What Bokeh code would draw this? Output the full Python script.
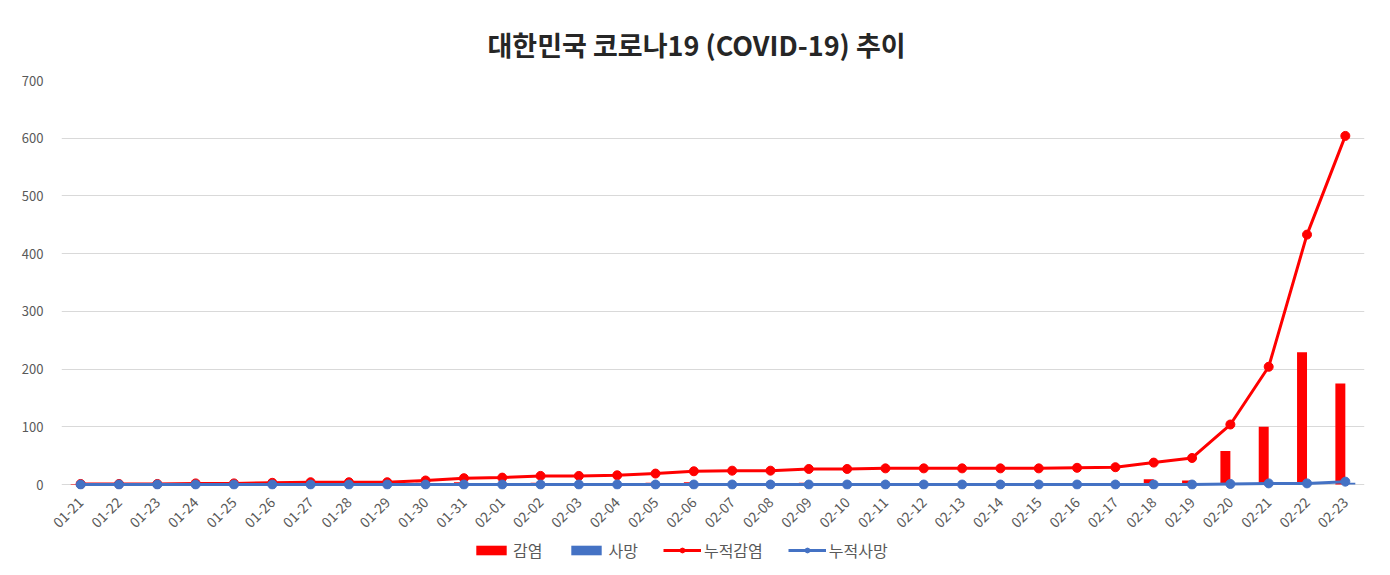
import math
from bokeh.plotting import figure
from bokeh.layouts import column
from bokeh.models import ColumnDataSource, Range1d, FactorRange, Legend, LegendItem, FixedTicker
from bokeh.transform import dodge
from bokeh.embed import file_html
from bokeh.resources import INLINE

dates = ["01-21", "01-22", "01-23", "01-24", "01-25", "01-26", "01-27", "01-28",
         "01-29", "01-30", "01-31", "02-01", "02-02", "02-03", "02-04", "02-05",
         "02-06", "02-07", "02-08", "02-09", "02-10", "02-11", "02-12", "02-13",
         "02-14", "02-15", "02-16", "02-17", "02-18", "02-19", "02-20", "02-21",
         "02-22", "02-23"]

daily_conf = [1, 0, 0, 1, 0, 1, 1, 0, 0, 3, 4,
              1, 3, 0, 1, 3, 4, 1, 0, 3, 0, 1, 0, 0, 0, 0, 1, 1, 9, 7, 58, 100, 229, 175]
daily_death = [0, 0, 0, 0, 0, 0, 0, 0, 0, 0, 0,
               0, 0, 0, 0, 0, 0, 0, 0, 0, 0, 0, 0, 0, 0, 0, 0, 0, 0, 0, 1, 1, 0, 3]
cum_conf = [1, 1, 1, 2, 2, 3, 4, 4, 4, 7, 11,
            12, 15, 15, 16, 19, 23, 24, 24, 27, 27, 28, 28, 28, 28, 28, 29, 30, 38, 46, 104, 204, 433, 604]
cum_death = [0, 0, 0, 0, 0, 0, 0, 0, 0, 0, 0,
             0, 0, 0, 0, 0, 0, 0, 0, 0, 0, 0, 0, 0, 0, 0, 0, 0, 0, 0, 1, 2, 2, 5]

y_ticks = [0, 100, 200, 300, 400, 500, 600, 700]
title_text = "대한민국 코로나19 (COVID-19) 추이"
labels = ["감염", "사망", "누적감염", "누적사망"]

RED = "#FF0000"
BLUE = "#4472C4"
FONT = "Noto Sans CJK KR"
GREY_TXT = "#595959"

source = ColumnDataSource(dict(date=dates, dc=daily_conf, dd=daily_death, cc=cum_conf, cd=cum_death))


def add_series(fig, marker_size):
    r1 = fig.vbar(x=dodge("date", -0.13, range=fig.x_range), top="dc", width=0.26, source=source,
                  fill_color=RED, line_color=None)
    r2 = fig.vbar(x=dodge("date", 0.13, range=fig.x_range), top="dd", width=0.26, source=source,
                  fill_color=BLUE, line_color=None)
    r3 = fig.line("date", "cc", source=source, line_color=RED, line_width=3)
    r4 = fig.scatter("date", "cc", source=source, size=marker_size, fill_color=RED, line_color=RED)
    r5 = fig.line("date", "cd", source=source, line_color=BLUE, line_width=3)
    r6 = fig.scatter("date", "cd", source=source, size=marker_size, fill_color=BLUE, line_color=BLUE)
    return r1, r2, r3, r4, r5, r6


p = figure(width=1382, height=535,
           x_range=FactorRange(factors=dates, range_padding=0),
           y_range=Range1d(-8.6, 700),
           output_backend="svg", toolbar_location=None,
           min_border_left=61, min_border_right=18, min_border_top=80, min_border_bottom=45)

p.title.text = title_text
p.title.align = "left"
p.title.text_font = FONT
p.title.text_font_size = "27px"
p.title.text_font_style = "bold"
p.title.text_color = "#262626"
p.title.offset = 426
p.title.standoff = 34

p.outline_line_color = None
p.background_fill_color = "white"
p.border_fill_color = "white"

p.xgrid.visible = False
p.ygrid.grid_line_color = "#D9D9D9"
p.ygrid.grid_line_width = 1

p.yaxis.ticker = FixedTicker(ticks=y_ticks)
p.yaxis.axis_line_color = None
p.yaxis.major_tick_line_color = None
p.yaxis.minor_tick_line_color = None
p.yaxis.major_label_text_font = FONT
p.yaxis.major_label_text_font_size = "13px"
p.yaxis.major_label_text_color = GREY_TXT
p.yaxis.major_label_standoff = 12

p.xaxis.axis_line_color = None
p.xaxis.major_tick_line_color = None
p.xaxis.major_label_orientation = math.pi / 4
p.xaxis.major_label_text_font = FONT
p.xaxis.major_label_text_font_size = "14px"
p.xaxis.major_label_text_color = GREY_TXT
p.xaxis.major_label_standoff = 4

add_series(p, 9)

# legend strip: its own small figure (same series, ranged out of view) so the legend is not clipped
pl = figure(width=1382, height=32, x_range=FactorRange(factors=dates, range_padding=0),
            y_range=Range1d(5000, 5001),
            output_backend="svg", toolbar_location=None,
            min_border_left=0, min_border_right=0, min_border_top=0, min_border_bottom=0)
pl.axis.visible = False
pl.grid.visible = False
pl.outline_line_color = None
pl.background_fill_color = "white"
pl.border_fill_color = "white"

lb1, lb2, ll1, ls1, ll2, ls2 = add_series(pl, 8)

legend = Legend(items=[
    LegendItem(label=labels[0], renderers=[lb1]),
    LegendItem(label=labels[1], renderers=[lb2]),
    LegendItem(label=labels[2], renderers=[ll1, ls1]),
    LegendItem(label=labels[3], renderers=[ll2, ls2]),
], orientation="horizontal", location=(411, 5),
    label_text_font=FONT, label_text_font_size="16px", label_text_color=GREY_TXT,
    border_line_color=None, background_fill_alpha=0,
    glyph_width=38, glyph_height=12, label_standoff=3, spacing=25, padding=0, margin=0)
pl.add_layout(legend, "center")

layout = column(p, pl, spacing=0)
open("out.html", "w").write(file_html(layout, INLINE))
